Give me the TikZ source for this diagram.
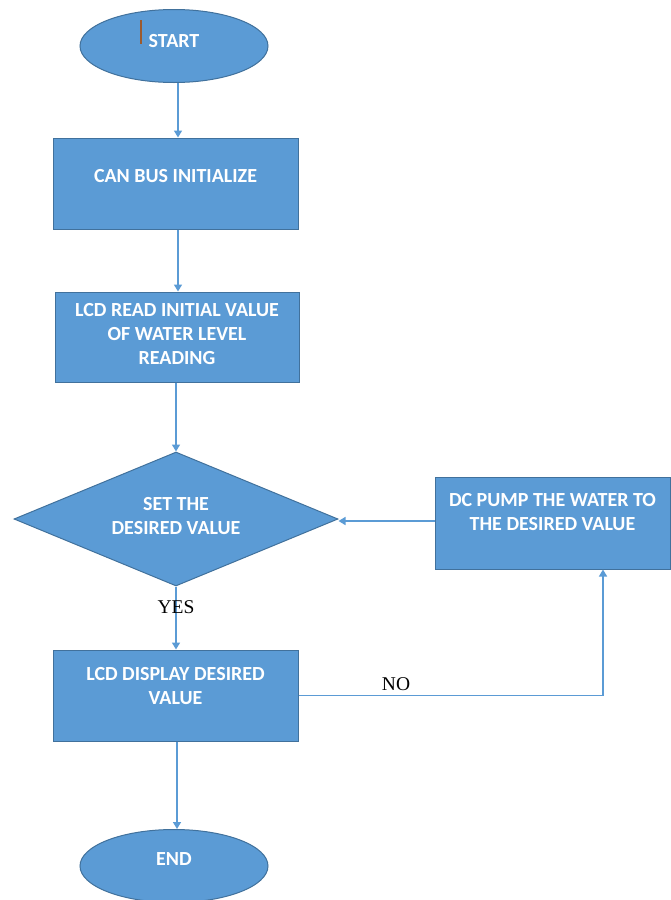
\documentclass[tikz,border=0pt]{standalone}
\usepackage{fontspec}
\newfontfamily\calib{Carlito}
\newfontfamily\tnr{Liberation Serif}
\usetikzlibrary{shapes.geometric,arrows.meta}
\definecolor{fillblue}{HTML}{5B9BD5}
\definecolor{edgeblue}{HTML}{41719C}
\definecolor{lineblue}{HTML}{5B9BD5}
\definecolor{cursorbrown}{HTML}{9C5A2E}
\tikzset{
  shapebase/.style={fill=fillblue, draw=edgeblue, line width=1pt, inner sep=0pt},
  stepbox/.style={shapebase, rectangle},
  termnode/.style={shapebase, ellipse, minimum width=188pt, minimum height=73pt},
  decide/.style={shapebase, diamond, minimum width=324pt, minimum height=134pt},
  boxtext/.style={text=white, font=\calib\bfseries\fontsize{20}{24}\selectfont, align=center, inner sep=0pt},
  plaintext/.style={text=black, font=\tnr\fontsize{19.5}{20}\selectfont, inner sep=0pt},
  arr/.style={draw=lineblue, line width=1.5pt, -{Triangle[width=8pt,length=7pt]}},
}
\begin{document}
\begin{tikzpicture}[x=1pt,y=-1pt]
\useasboundingbox (0,0) rectangle (671,900);
% shapes
\node[termnode] (start) at (174,46) {};
\node[boxtext] (startt) at (174,41) {START};
\draw[cursorbrown, line width=1.2pt] (141,20) -- (141,44);

\node[stepbox, minimum width=245pt, minimum height=91pt] (can) at (175.5,183.5) {};
\node[boxtext] (cant) at (175.5,176) {CAN BUS INITIALIZE};

\node[stepbox, minimum width=244pt, minimum height=90pt] (read) at (177,337) {};
\node[boxtext] (readt) at (177,334) {LCD READ INITIAL VALUE\\OF WATER LEVEL\\READING};

\node[decide] (dia) at (176,519) {};
\node[boxtext] (diat) at (176,516) {SET THE\\DESIRED VALUE};

\node[stepbox, minimum width=235pt, minimum height=92pt] (dc) at (552.5,523) {};
\node[boxtext] (dct) at (552.5,512) {DC PUMP THE WATER TO\\THE DESIRED VALUE};

\node[stepbox, minimum width=245pt, minimum height=91pt] (disp) at (175.5,695.5) {};
\node[boxtext] (dispt) at (175.5,686.5) {LCD DISPLAY DESIRED\\VALUE};

\node[termnode] (end) at (174,866) {};
\node[boxtext] (endt) at (174,859) {END};

% connectors
\draw[arr] ([xshift=4pt]start.south) -- ([xshift=4pt]start.south |- can.north);
\draw[arr] ([xshift=2.5pt]can.south) -- ([xshift=2.5pt]can.south |- read.north);
\draw[arr] (dia.north |- read.south) -- (dia.north);
\draw[arr] ([yshift=2pt]dc.west) -- ([yshift=2pt]dc.west -| dia.east);
\draw[arr] (dia.south) -- (dia.south |- disp.north);
\draw[arr] (disp.east) -| ([xshift=50.5pt]dc.south);
\draw[arr] ([xshift=1.5pt]disp.south) -- ([xshift=1.5pt]disp.south |- end.north);

% labels
\node[plaintext] (yes) at (176,607) {YES};
\node[plaintext] (no) at (396,684) {NO};
\end{tikzpicture}
\end{document}
